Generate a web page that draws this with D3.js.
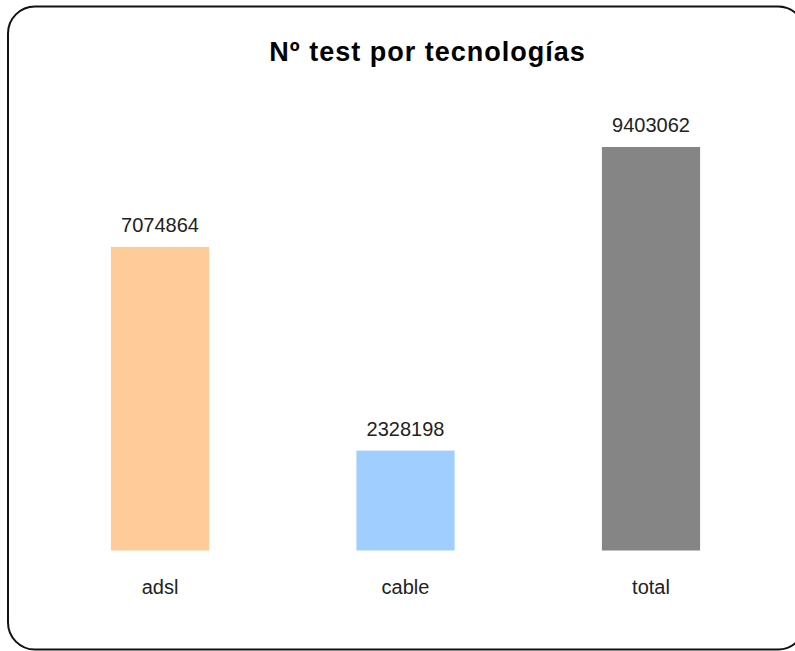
<!DOCTYPE html>
<html>
<head>
<meta charset="utf-8">
<script src="https://cdn.jsdelivr.net/npm/d3@7"></script>
<style>
  html, body { margin: 0; padding: 0; background: #fff; }
  svg { display: block; }
</style>
</head>
<body>
<div id="chart"></div>
<script>
const title = "Nº test por tecnologías";
const categories = ["adsl", "cable", "total"];
const values = [7074864, 2328198, 9403062];
const colors = ["#FFCC99", "#A0CFFF", "#858585"];

const W = 795, H = 651;
const svg = d3.select("#chart").append("svg").attr("width", W).attr("height", H);

// frame
svg.append("rect")
  .attr("x", 8).attr("y", 6.5)
  .attr("width", 797).attr("height", 643)
  .attr("rx", 27).attr("ry", 27)
  .attr("fill", "#fff").attr("stroke", "#111").attr("stroke-width", 2);

svg.append("text")
  .attr("x", 427.5).attr("y", 61)
  .attr("text-anchor", "middle")
  .attr("font-family", "Liberation Sans, Arial, sans-serif")
  .attr("font-weight", "bold")
  .attr("font-size", 27)
  .attr("letter-spacing", 1)
  .attr("fill", "#000")
  .text(title);

const x = d3.scaleBand().domain(categories).range([37.25, 773.75])
  .paddingInner(0.6).paddingOuter(0.3);
const y = d3.scaleLinear().domain([0, d3.max(values)]).range([550.5, 147]);

const data = categories.map((c, i) => ({ c, v: values[i], col: colors[i] }));

svg.selectAll("rect.bar").data(data).enter().append("rect")
  .attr("class", "bar")
  .attr("x", d => x(d.c)).attr("width", x.bandwidth())
  .attr("y", d => y(d.v)).attr("height", d => y(0) - y(d.v))
  .attr("fill", d => d.col);

svg.selectAll("text.val").data(data).enter().append("text")
  .attr("class", "val")
  .attr("x", d => x(d.c) + x.bandwidth() / 2)
  .attr("y", d => y(d.v) - 15)
  .attr("text-anchor", "middle")
  .attr("font-family", "Liberation Sans, Arial, sans-serif")
  .attr("font-size", 20)
  .attr("fill", "#222")
  .text(d => d.v);

// category axis (no line, no ticks)
const axis = svg.append("g").attr("transform", `translate(0,${y(0)})`)
  .call(d3.axisBottom(x).tickSize(0).tickPadding(0));
axis.select(".domain").remove();
axis.selectAll("text")
  .attr("y", 43).attr("dy", 0)
  .attr("font-family", "Liberation Sans, Arial, sans-serif")
  .attr("font-size", 20)
  .attr("fill", "#222");
</script>
</body>
</html>
